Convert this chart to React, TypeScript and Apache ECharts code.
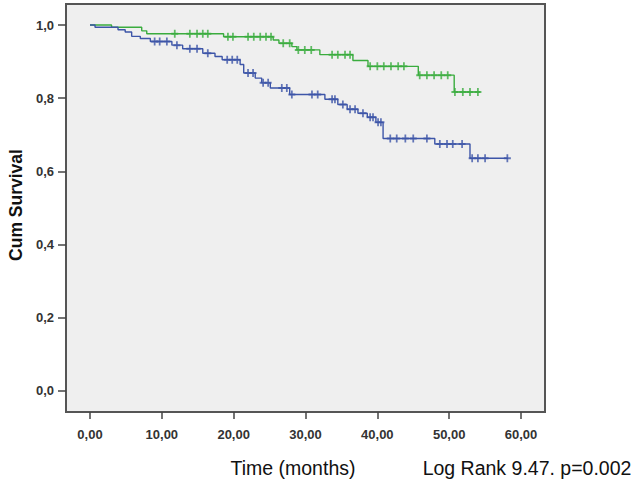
import React, { useEffect, useRef } from "react";
import * as echarts from "echarts";

const xTicks = [0, 10, 20, 30, 40, 50, 60];
const yTicks = [0, 0.2, 0.4, 0.6, 0.8, 1.0];

const greenTimes = [0, 3.0, 7.2, 7.9, 18.6, 25.5, 26.3, 28.1, 28.8, 32.0, 36.6, 38.7, 45.7, 50.7, 54.3];
const greenSurv = [1.0, 0.994, 0.984, 0.976, 0.968, 0.959, 0.95, 0.941, 0.932, 0.919, 0.903, 0.887, 0.863, 0.817, 0.817];
const greenCensored = [11.8, 13.9, 14.9, 15.7, 16.4, 19.2, 19.9, 22.0, 22.8, 23.7, 24.5, 25.2, 26.9, 27.8, 29.0, 29.9, 30.8, 33.7, 34.5, 35.5, 36.2, 39.0, 40.0, 40.9, 41.9, 42.9, 43.7, 45.9, 46.9, 47.9, 48.9, 49.8, 50.8, 51.9, 52.9, 54.0];

const blueTimes = [0, 0.7, 3.9, 4.9, 5.8, 7.0, 8.4, 11.4, 12.9, 15.7, 17.4, 18.4, 20.9, 21.4, 23.0, 23.9, 25.1, 27.8, 32.7, 34.5, 35.8, 37.3, 38.6, 39.8, 40.8, 48.0, 52.9, 58.2];
const blueSurv = [1.0, 0.994, 0.987, 0.981, 0.969, 0.963, 0.955, 0.945, 0.935, 0.923, 0.914, 0.905, 0.892, 0.869, 0.855, 0.842, 0.828, 0.81, 0.797, 0.783, 0.77, 0.759, 0.748, 0.734, 0.69, 0.675, 0.636, 0.636];
const blueCensored = [9.0, 9.7, 10.7, 12.1, 13.9, 14.9, 16.4, 19.1, 19.8, 20.5, 22.0, 22.7, 24.1, 24.8, 26.7, 27.4, 28.1, 30.9, 31.7, 33.7, 34.1, 35.2, 36.2, 36.9, 38.0, 39.0, 39.4, 40.1, 40.5, 41.8, 42.7, 43.9, 45.0, 46.9, 48.7, 49.7, 50.5, 51.8, 53.2, 54.0, 55.0, 58.1];

const xTitle = "Time (months)";
const yTitle = "Cum Survival";
const statText = "Log Rank 9.47. p=0.002";

const GREEN = "#3aac3e";
const BLUE = "#3d55a8";
const PLUS = "path://M3,0H5V3H8V5H5V8H3V5H0V3H3Z";

function survAt(times: number[], vals: number[], t: number) {
  let s = vals[0];
  for (let i = 0; i < times.length; i++) if (times[i] <= t) s = vals[i];
  return s;
}

export default function App() {
  const ref = useRef<HTMLDivElement>(null);
  useEffect(() => {
    document.body.style.margin = "0";
    const chart = echarts.init(ref.current!, null, { renderer: "svg" });
    const labelStyle = { color: "#333", fontWeight: "bold" as const, fontSize: 13, fontFamily: "Liberation Sans, Arial, sans-serif" };
    chart.setOption({
      animation: false,
      grid: { left: 66, top: 4, width: 479, height: 408, show: true, backgroundColor: "#efefef", borderColor: "#555", borderWidth: 2 },
      xAxis: {
        type: "value", min: -3.341, max: 63.341,
        axisLine: { show: true, onZero: false, lineStyle: { color: "#555", width: 2 } },
        splitLine: { show: false },
        axisTick: { show: true, length: 7, customValues: xTicks, lineStyle: { color: "#444", width: 1.5 } },
        axisLabel: { ...labelStyle, margin: 16, customValues: xTicks, formatter: (v: number) => v.toFixed(2).replace(".", ",") },
      },
      yAxis: {
        type: "value", min: -0.0574, max: 1.0574,
        axisLine: { show: true, onZero: false, lineStyle: { color: "#555", width: 2 } },
        splitLine: { show: false },
        axisTick: { show: true, length: 8, customValues: yTicks, lineStyle: { color: "#444", width: 1.5 } },
        axisLabel: { ...labelStyle, margin: 12, customValues: yTicks, formatter: (v: number) => v.toFixed(1).replace(".", ",") },
      },
      series: [
        {
          type: "line", step: "end", showSymbol: false,
          lineStyle: { color: GREEN, width: 1.4 },
          data: greenTimes.map((t, i) => [t, greenSurv[i]]),
        },
        {
          type: "line", step: "end", showSymbol: false,
          lineStyle: { color: BLUE, width: 1.4 },
          data: blueTimes.map((t, i) => [t, blueSurv[i]]),
        },
        {
          type: "scatter", symbol: PLUS, symbolSize: [7, 8],
          itemStyle: { color: GREEN },
          data: greenCensored.map((t) => [t, survAt(greenTimes, greenSurv, t)]),
        },
        {
          type: "scatter", symbol: PLUS, symbolSize: [7, 8],
          itemStyle: { color: BLUE },
          data: blueCensored.map((t) => [t, survAt(blueTimes, blueSurv, t)]),
        },
      ],
      graphic: [
        {
          type: "text", x: 16, y: 205, rotation: Math.PI / 2,
          style: { text: yTitle, textAlign: "center", textVerticalAlign: "middle", font: "bold 17.5px 'Liberation Sans', Arial, sans-serif", fill: "#111" },
        },
        {
          type: "text", x: 293, y: 468,
          style: { text: xTitle, textAlign: "center", textVerticalAlign: "middle", font: "19.5px 'Liberation Sans', Arial, sans-serif", fill: "#111" },
        },
        {
          type: "text", x: 527, y: 468,
          style: { text: statText, textAlign: "center", textVerticalAlign: "middle", font: "19.5px 'Liberation Sans', Arial, sans-serif", fill: "#111" },
        },
      ],
    });
    return () => chart.dispose();
  }, []);
  return <div ref={ref} style={{ position: "absolute", left: 0, top: 0, width: 633, height: 484 }} />;
}
